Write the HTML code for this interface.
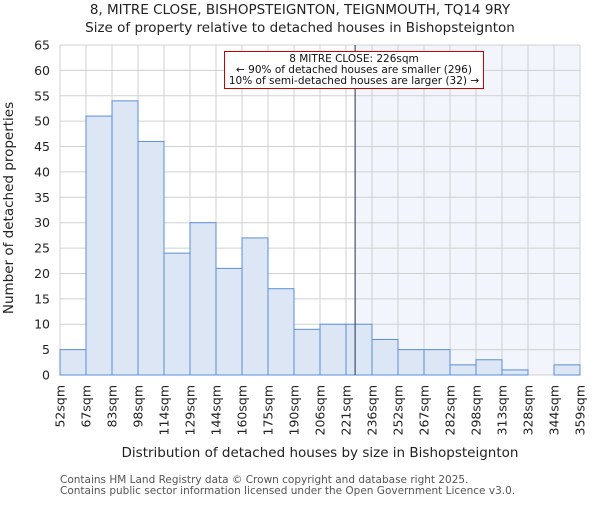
<!DOCTYPE html>
<html><head><meta charset="utf-8"><style>body{margin:0;background:#fff}svg{font-family:"DejaVu Sans","Liberation Sans",sans-serif}</style></head>
<body>
<svg id="c" width="600" height="500">
<text x="300" y="14" text-anchor="middle" font-size="13.5" fill="#222">8, MITRE CLOSE, BISHOPSTEIGNTON, TEIGNMOUTH, TQ14 9RY</text>
<text x="300" y="32" text-anchor="middle" font-size="13.5" fill="#222">Size of property relative to detached houses in Bishopsteignton</text>
<g id="plot"></g>
<text x="320" y="457" text-anchor="middle" font-size="13.5" fill="#222">Distribution of detached houses by size in Bishopsteignton</text>
<text transform="translate(13,208) rotate(-90)" text-anchor="middle" font-size="13.5" fill="#222">Number of detached properties</text>
<text x="60" y="483" font-size="10.5" fill="#555">Contains HM Land Registry data © Crown copyright and database right 2025.</text>
<text x="60" y="494" font-size="10.5" fill="#555">Contains public sector information licensed under the Open Government Licence v3.0.</text>
</svg>
<script>
const tickLabels=["52sqm","67sqm","83sqm","98sqm","114sqm","129sqm","144sqm","160sqm","175sqm","190sqm","206sqm","221sqm","236sqm","252sqm","267sqm","282sqm","298sqm","313sqm","328sqm","344sqm","359sqm"];
const counts=[5,51,54,46,24,30,21,27,17,9,10,10,7,5,5,2,3,1,0,2];
const yTicks=[0,5,10,15,20,25,30,35,40,45,50,55,60,65];
const markerIndex=11.35;
const NS="http://www.w3.org/2000/svg";
const g=document.getElementById('plot');
const X0=60,X1=580,Y0=375,Y1=45,YMAX=65;
const bw=(X1-X0)/counts.length;
const xs=i=>X0+i*bw;
const ys=v=>Y0-(v/YMAX)*(Y0-Y1);
function mk(t,a){const e=document.createElementNS(NS,t);for(const k in a)e.setAttribute(k,a[k]);g.appendChild(e);return e;}
const mx=xs(markerIndex);
let e=mk('rect',{x:mx,y:Y1,width:X1-mx,height:Y0-Y1,fill:'#f2f5fc'});


yTicks.forEach(v=>{
 let l=mk('line',{x1:X0,x2:X1,y1:ys(v),y2:ys(v),stroke:'#d0d0d0','stroke-width':1});
 
 
 let t=mk('text',{x:X0-10,y:ys(v)+4.5,'text-anchor':'end','font-size':12.5,fill:'#222'});
 t.textContent=v;
 
 
});
tickLabels.forEach((s,i)=>{
 let l=mk('line',{x1:xs(i),x2:xs(i),y1:Y1,y2:Y0,stroke:'#d0d0d0','stroke-width':1});
 
 
 let t=mk('text',{transform:`translate(${xs(i)+4.5},385) rotate(-90)`,'text-anchor':'end','font-size':12.5,fill:'#222'});
 t.textContent=s;
 
 
});
counts.forEach((v,i)=>{
 if(v<=0)return;
 let r=mk('rect',{x:xs(i),y:ys(v),width:bw,height:Y0-ys(v),fill:'#dce6f4',stroke:'#5b8fd9','stroke-width':1});
 
 
});
e=mk('line',{x1:mx,x2:mx,y1:Y1,y2:Y0,stroke:'#23324f','stroke-width':1});


e=mk('rect',{x:224.5,y:51.5,width:259,height:37,fill:'#fff',stroke:'#c00','stroke-width':1});


["8 MITRE CLOSE: 226sqm","← 90% of detached houses are smaller (296)","10% of semi-detached houses are larger (32) →"].forEach((s,i)=>{
 let t=mk('text',{x:354,y:62+i*11,'text-anchor':'middle','font-size':10.5,fill:'#111'});
 t.textContent=s;
 
 
});
</script>
</body></html>
